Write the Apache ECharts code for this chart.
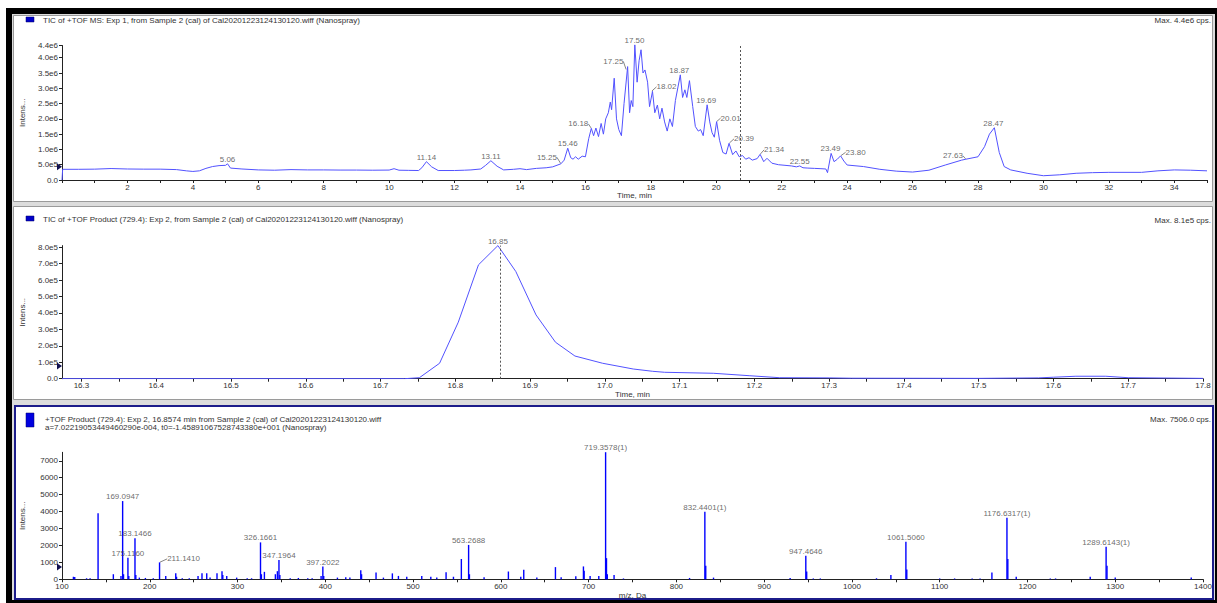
<!DOCTYPE html>
<html><head><meta charset="utf-8">
<script src="https://cdn.jsdelivr.net/npm/echarts@6/dist/echarts.min.js"></script>
<style>html,body{margin:0;padding:0;background:#fff}#c{width:1217px;height:603px}</style>
</head><body><div id="c"></div>
<script>
const FONT = '"Liberation Sans", Arial, sans-serif';

// ---------- Panel 1: TIC of +TOF MS ----------
const ticTime = [0,0.02,0.5,1,1.5,2,2.5,3,3.5,3.8,4.0,4.2,4.4,4.6,4.8,5.0,5.06,5.15,5.5,6,6.5,7,7.5,8,8.5,9,9.5,10,10.15,10.3,10.6,10.9,11.0,11.14,11.3,11.5,12,12.3,12.5,12.8,12.95,13.11,13.3,13.5,13.8,14,14.2,14.5,14.8,15.0,15.25,15.35,15.46,15.55,15.62,15.7,15.78,15.9,16.0,16.1,16.18,16.25,16.32,16.4,16.48,16.55,16.62,16.7,16.76,16.8,16.88,16.95,17.02,17.1,17.18,17.29,17.35,17.4,17.45,17.51,17.58,17.64,17.7,17.76,17.82,17.9,17.96,18.05,18.12,18.2,18.27,18.34,18.42,18.5,18.58,18.66,18.75,18.9,18.97,19.04,19.1,19.18,19.28,19.36,19.45,19.52,19.6,19.72,19.8,19.87,19.94,20.01,20.1,20.2,20.3,20.39,20.5,20.6,20.7,20.8,20.9,21.0,21.1,21.25,21.34,21.45,21.55,21.7,21.9,22.1,22.3,22.45,22.55,22.65,22.8,23.0,23.2,23.35,23.4,23.51,23.6,23.7,23.8,23.9,24.0,24.5,25,25.5,26,26.5,27,27.5,27.63,28,28.2,28.35,28.5,28.65,28.8,29,29.5,30,30.5,31,31.5,32,33,33.5,34,34.5,35];
const ticIntensity = [0,3.5e5,3.5e5,3.55e5,3.75e5,3.6e5,3.55e5,3.55e5,3.4e5,3.0e5,2.8e5,3.0e5,3.8e5,4.4e5,4.7e5,4.8e5,5.3e5,3.9e5,3.6e5,3.3e5,3.2e5,3.4e5,3.3e5,3.3e5,3.25e5,3.25e5,3.2e5,3.25e5,3.7e5,3.2e5,3.15e5,3.1e5,4.0e5,6.0e5,4.3e5,3.1e5,3.1e5,3.2e5,3.3e5,3.6e5,4.8e5,6.3e5,4.5e5,3.3e5,3.5e5,3.7e5,3.4e5,3.8e5,4.0e5,4.3e5,5.3e5,6.5e5,1.04e6,7.3e5,6.8e5,7.6e5,6.8e5,7.8e5,7.6e5,1.35e6,1.69e6,1.45e6,1.7e6,1.42e6,1.85e6,1.5e6,2.0e6,2.2e6,2.55e6,2.3e6,3.33e6,2.0e6,1.65e6,1.45e6,2.5e6,3.71e6,2.2e6,2.6e6,2.4e6,4.42e6,3.2e6,3.9e6,4.26e6,3.5e6,3.6e6,3.2e6,2.4e6,2.9e6,2.2e6,2.45e6,2.0e6,2.35e6,1.9e6,1.6e6,2.0e6,1.75e6,2.6e6,3.44e6,2.7e6,2.95e6,2.7e6,3.25e6,2.4e6,1.75e6,1.6e6,1.65e6,1.45e6,2.46e6,1.9e6,1.55e6,1.4e6,1.91e6,1.3e6,9.0e5,8.5e5,1.2e6,8.3e5,9.5e5,7.6e5,8.0e5,6.8e5,7.3e5,6.5e5,7.0e5,8.4e5,6.0e5,7.1e5,5.5e5,5.0e5,4.8e5,4.6e5,4.3e5,4.6e5,4.0e5,3.9e5,3.8e5,3.7e5,3.6e5,2.4e5,8.7e5,6.0e5,6.8e5,7.9e5,6.2e5,4.9e5,4.4e5,3.5e5,2.9e5,2.6e5,3.2e5,4.9e5,6.5e5,6.8e5,7.6e5,1.09e6,1.5e6,1.71e6,9.0e5,4.4e5,3.3e5,2.2e5,1.4e5,1.7e5,2.2e5,2.4e5,2.5e5,2.5e5,3.0e5,3.3e5,3.2e5,3.0e5];
const ticPeakTime = [5.06,11.14,13.11,15.25,15.46,16.18,17.25,17.50,18.02,18.87,19.69,20.01,20.39,21.34,22.55,23.49,23.80,27.63,28.47];
const ticPeakIntensity = [5.3e5,6.0e5,6.3e5,5.3e5,1.04e6,1.69e6,3.6e6,4.42e6,2.9e6,3.44e6,2.46e6,1.91e6,1.2e6,8.4e5,4.6e5,8.7e5,7.9e5,6.8e5,1.71e6];
const ticPeakText = ['5.06','11.14','13.11','15.25','15.46','16.18','17.25','17.50','18.02','18.87','19.69','20.01','20.39','21.34','22.55','23.49','23.80','27.63','28.47'];
const ticXLabels = [2,4,6,8,10,12,14,16,18,20,22,24,26,28,30,32,34];
const ticYLabels = [0,5e5,1e6,1.5e6,2e6,2.5e6,3e6,3.5e6,4e6,4.4e6];
const ticCursorTime = 20.73;
const ticThreshold = 4.3e5;

// ---------- Panel 2: TIC of +TOF Product (729.4) ----------
const xicTime = [16.274,16.732,16.752,16.779,16.804,16.831,16.857,16.881,16.908,16.934,16.96,16.997,17.038,17.064,17.08,17.145,17.194,17.234,17.3,17.33,17.5,17.58,17.6,17.63,17.67,17.7,17.8];
const xicIntensity = [0,0,6e3,9.4e4,3.44e5,6.93e5,8.1e5,6.52e5,3.88e5,2.22e5,1.38e5,9.4e4,5.9e4,4.5e4,3.9e4,3.3e4,1.8e4,6e3,5e3,3e3,2e3,5e3,9e3,1.5e4,1.5e4,6e3,2e3];
const xicPeakTime = [16.857];
const xicPeakIntensity = [8.1e5];
const xicPeakText = ['16.85'];
const xicXLabels = [16.3,16.4,16.5,16.6,16.7,16.8,16.9,17.0,17.1,17.2,17.3,17.4,17.5,17.6,17.7,17.8];
const xicYLabels = [0,1e5,2e5,3e5,4e5,5e5,6e5,7e5,8e5];
const xicThreshold = 7.7e4;

// ---------- Panel 3: +TOF Product spectrum ----------
const specMz = [113,114.5,128,132,141.1,158.5,167.2,169.09,170.1,175.12,176.1,183.15,184.1,188.1,195,204,211.14,218.2,229.6,230.5,237,245,255,259.5,264.9,268.7,276.6,282.3,283.2,287.7,299,311,316,326.17,327.2,330.6,343.1,345.4,347.2,348.2,360,369.3,380,385,395.2,397.2,398.2,413.8,423.3,428,440.4,441.3,457.8,466.2,476.4,483.3,492.8,509.9,520.2,527,537.6,546,555,563.27,564.2,580.9,608.6,622.7,626.1,641,662.2,668.7,685.4,694.1,694.9,701.7,711.6,719.36,720.36,721.3,729,739.7,815,832.44,833.44,842.3,929.6,947.46,948.46,956,964,1028,1044.4,1061.5,1062.5,1100,1117,1137,1146,1159.5,1176.63,1177.63,1187.2,1226,1232,1271.5,1289.61,1290.61,1300,1386.6];
const specIntensity = [150,130,60,60,3900,300,200,4620,300,1280,200,2420,250,100,80,60,1000,200,350,150,60,60,200,350,350,100,350,480,250,200,100,60,60,2180,300,440,300,480,1140,250,60,80,60,60,200,750,200,100,120,100,530,300,400,100,350,200,150,200,150,100,410,150,1200,2030,300,120,460,150,560,100,720,120,180,760,500,200,200,7506,1250,300,250,50,80,3990,800,100,80,1395,460,50,50,60,250,2220,580,50,50,50,50,400,3640,1200,150,50,50,150,1925,800,100,100];
const specLabelMz = [169.09,175.12,183.15,211.14,326.17,347.2,397.2,563.27,719.36,832.44,947.46,1061.5,1176.63,1289.61];
const specLabelIntensity = [4620,1280,2420,1000,2180,1140,750,2030,7506,3990,1395,2220,3640,1925];
const specLabelText = ['169.0947','175.1160','183.1466','211.1410','326.1661','347.1964','397.2022','563.2688','719.3578(1)','832.4401(1)','947.4646','1061.5060','1176.6317(1)','1289.6143(1)'];
const specXLabels = [100,200,300,400,500,600,700,800,900,1000,1100,1200,1300,1400];
const specYLabels = [0,1000,2000,3000,4000,5000,6000,7000];
const specThreshold = 726;

// ---------- texts ----------
const title1 = 'TIC of +TOF MS: Exp 1, from Sample 2 (cal) of Cal20201223124130120.wiff (Nanospray)';
const title2 = 'TIC of +TOF Product (729.4): Exp 2, from Sample 2 (cal) of Cal20201223124130120.wiff (Nanospray)';
const title3a = '+TOF Product (729.4): Exp 2, 16.8574 min from Sample 2 (cal) of Cal20201223124130120.wiff';
const title3b = 'a=7.02219053449460290e-004, t0=-1.45891067528743380e+001 (Nanospray)';
const max1 = 'Max. 4.4e6 cps.', max2 = 'Max. 8.1e5 cps.', max3 = 'Max. 7506.0 cps.';

// label leader offsets (style only)
const ticLeader = {'15.25':[-14,-2],'16.18':[-13,0],'17.25':[-13,-4],'18.02':[15,0],'20.01':[14,1],'20.39':[15,0],'21.34':[14,0],'23.80':[15,1],'27.63':[-13,1]};
const specLeader = {'211.1410':[24,1]};

function sci(v){ if(v===0) return '0.0'; const e=Math.floor(Math.log10(v)+1e-9); return (v/Math.pow(10,e)).toFixed(1)+'e'+e; }
function zip(a,b){ return a.map((x,i)=>[x,b[i]]); }
const xicTicks = [];
xicXLabels.forEach(v=>{ xicTicks.push(v); if(v<17.79) xicTicks.push(+(v+0.05).toFixed(2)); });

const TXT = '#333';
const axisCommon = {
  axisLine:{onZero:false, lineStyle:{color:'#222', width:1}},
  axisTick:{length:3, lineStyle:{color:'#222'}},
  splitLine:{show:false},
  nameTextStyle:{fontSize:8, color:TXT, fontFamily:FONT},
};
function lbl(extra){ return Object.assign({fontSize:8, color:TXT, fontFamily:FONT}, extra); }
const BLUE = '#5252ff';

function tri(x, y){ return {symbol:'triangle', symbolSize:[7,5], symbolRotate:-90, symbolOffset:[-2.5,0], label:{show:false}, itemStyle:{color:'#101050'}, data:[{coord:[x,y]}]}; }
function peakLabelSeries(xi, yi, data, texts, leader, extra){
  return Object.assign({
    type:'scatter', xAxisIndex:xi, yAxisIndex:yi, data:data, symbolSize:1, silent:true, clip:false,
    itemStyle:{color:'rgba(0,0,0,0)'},
    label:{show:true, position:'top', distance:0, fontSize:8, color:'#444', fontFamily:FONT,
      formatter:p=>texts[p.dataIndex]},
    labelLayout:function(p){ const o=leader[texts[p.dataIndex]]; return o?{dx:o[0],dy:o[1]}:{}; },
    labelLine:{show:true, length2:0, lineStyle:{color:'#666', width:0.8}}
  }, extra||{});
}

const option = {
  animation:false,
  backgroundColor:'#fff',
  grid:[
    {left:62, top:45.5, width:1145, height:134.5},
    {left:62, top:245.6, width:1141, height:133.1},
    {left:62, top:452.3, width:1141, height:127}
  ],
  xAxis:[
    Object.assign({}, axisCommon, {type:'value', gridIndex:0, min:0, max:35, interval:1,
      axisLabel:lbl({customValues:ticXLabels, margin:3}), name:'Time, min', nameLocation:'middle', nameGap:11}),
    Object.assign({}, axisCommon, {type:'value', gridIndex:1, min:16.274, max:17.8,
      axisTick:{length:3, lineStyle:{color:'#222'}, customValues:xicTicks},
      axisLabel:lbl({customValues:xicXLabels, margin:3, formatter:v=>v.toFixed(1)}), name:'Time, min', nameLocation:'middle', nameGap:11}),
    Object.assign({}, axisCommon, {type:'value', gridIndex:2, min:100, max:1400, interval:50,
      axisLabel:lbl({customValues:specXLabels, margin:3, formatter:v=>String(v)}), name:'m/z, Da', nameLocation:'middle', nameGap:11})
  ],
  yAxis:[
    Object.assign({}, axisCommon, {type:'value', gridIndex:0, min:0, max:4.4e6,
      axisTick:{length:3, lineStyle:{color:'#222'}, customValues:ticYLabels},
      axisLabel:lbl({customValues:ticYLabels, formatter:sci, margin:4}), name:'Intens...', nameLocation:'middle', nameGap:36, nameRotate:90}),
    Object.assign({}, axisCommon, {type:'value', gridIndex:1, min:0, max:8.1e5,
      axisTick:{length:3, lineStyle:{color:'#222'}, customValues:xicYLabels},
      axisLabel:lbl({customValues:xicYLabels, formatter:sci, margin:4}), name:'Intens...', nameLocation:'middle', nameGap:36, nameRotate:90}),
    Object.assign({}, axisCommon, {type:'value', gridIndex:2, min:0, max:7500,
      axisTick:{length:3, lineStyle:{color:'#222'}, customValues:specYLabels},
      axisLabel:lbl({customValues:specYLabels, margin:4, formatter:v=>String(v)}), name:'Intens...', nameLocation:'middle', nameGap:36, nameRotate:90})
  ],
  series:[
    {type:'line', xAxisIndex:0, yAxisIndex:0, data:zip(ticTime,ticIntensity), symbol:'none', silent:true, clip:false,
      lineStyle:{color:BLUE, width:1},
      markLine:{silent:true, symbol:'none', label:{show:false}, lineStyle:{color:'#555', type:[2,2], width:1}, data:[{xAxis:ticCursorTime}]},
      markPoint:tri(0, ticThreshold)},
    peakLabelSeries(0,0, zip(ticPeakTime,ticPeakIntensity), ticPeakText, ticLeader),
    {type:'line', xAxisIndex:1, yAxisIndex:1, data:zip(xicTime,xicIntensity), symbol:'none', silent:true,
      lineStyle:{color:BLUE, width:1},
      markLine:{silent:true, symbol:'none', label:{show:false}, lineStyle:{color:'#555', type:[2,2], width:1}, data:[{xAxis:xicPeakTime[0]}]},
      markPoint:tri(16.274, xicThreshold)},
    peakLabelSeries(1,1, zip(xicPeakTime,xicPeakIntensity), xicPeakText, {}),
    {type:'bar', xAxisIndex:2, yAxisIndex:2, data:zip(specMz,specIntensity), barWidth:1.4, silent:true, clip:false,
      itemStyle:{color:'#0000ff'}, markPoint:tri(100, specThreshold)},
    peakLabelSeries(2,2, zip(specLabelMz,specLabelIntensity), specLabelText, specLeader)
  ],
  graphic:{elements:[
    {type:'rect', z:-100, shape:{x:6,y:8,width:1211,height:595}, style:{fill:'#000'}},
    {type:'rect', z:-99, shape:{x:12,y:14,width:1203,height:586}, style:{fill:'#dcdcdc'}},
    {type:'rect', z:-98, shape:{x:13.5,y:15.5,width:1199,height:186}, style:{fill:'#fff', stroke:'#9a9a9a', lineWidth:1}},
    {type:'rect', z:-98, shape:{x:13.5,y:206.5,width:1199,height:193}, style:{fill:'#fff', stroke:'#9a9a9a', lineWidth:1}},
    {type:'rect', z:-98, shape:{x:15,y:406,width:1198,height:193}, style:{fill:'#fff', stroke:'#1c1c8a', lineWidth:2}},
    {type:'rect', z:10, shape:{x:26,y:17,width:8,height:5}, style:{fill:'#0000c8', stroke:'#00006a', lineWidth:0.5}},
    {type:'rect', z:10, shape:{x:26,y:216,width:8,height:5}, style:{fill:'#0000c8', stroke:'#00006a', lineWidth:0.5}},
    {type:'rect', z:10, shape:{x:26,y:413,width:8,height:14}, style:{fill:'#0000e0', stroke:'#00006a', lineWidth:0.5}},
    {type:'text', z:10, style:{x:43, y:20.7, text:title1, fill:TXT, font:'8px '+FONT, textAlign:'left', textVerticalAlign:'middle'}},
    {type:'text', z:10, style:{x:43, y:219.7, text:title2, fill:TXT, font:'8px '+FONT, textAlign:'left', textVerticalAlign:'middle'}},
    {type:'text', z:10, style:{x:45, y:419, text:title3a, fill:TXT, font:'8px '+FONT, textAlign:'left', textVerticalAlign:'middle'}},
    {type:'text', z:10, style:{x:45, y:427.8, text:title3b, fill:TXT, font:'8px '+FONT, textAlign:'left', textVerticalAlign:'middle'}},
    {type:'text', z:10, style:{x:1211, y:20.7, text:max1, fill:TXT, font:'8px '+FONT, textAlign:'right', textVerticalAlign:'middle'}},
    {type:'text', z:10, style:{x:1211, y:220.7, text:max2, fill:TXT, font:'8px '+FONT, textAlign:'right', textVerticalAlign:'middle'}},
    {type:'text', z:10, style:{x:1211, y:419, text:max3, fill:TXT, font:'8px '+FONT, textAlign:'right', textVerticalAlign:'middle'}}
  ]}
};
const chart = echarts.init(document.getElementById('c'), null, {renderer:'svg'});
chart.setOption(option);
</script></body></html>
